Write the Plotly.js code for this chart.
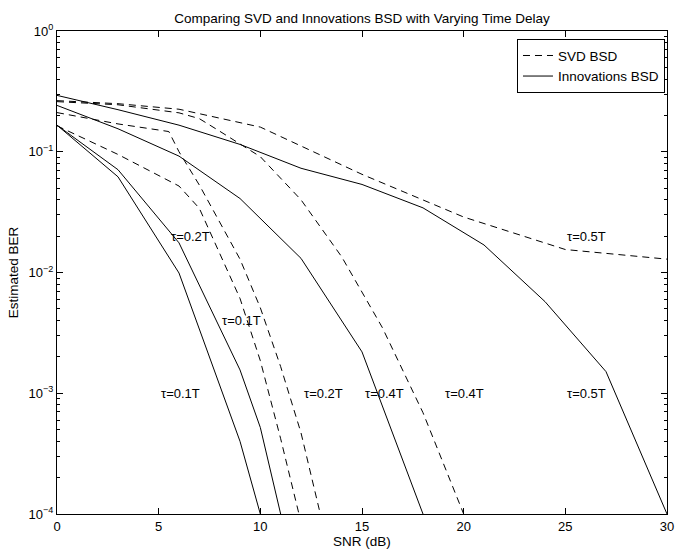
<!DOCTYPE html>
<html>
<head>
<meta charset="utf-8">
<script src="https://cdn.plot.ly/plotly-3.0.1.min.js"></script>
<style>html,body{margin:0;padding:0;background:#fff;}#chart{width:686px;height:550px;}</style>
</head>
<body>
<div id="chart"></div>
<script>
// Innovations BSD (solid)
const snrInno01 = [0, 3, 6, 9, 10];
const berInno01 = [0.166, 0.062, 0.0099, 0.0004, 0.0001];
const snrInno02 = [0, 3, 6, 9, 10, 11];
const berInno02 = [0.166, 0.071, 0.0176, 0.00156, 0.00052, 0.0001];
const snrInno04 = [0, 3, 6, 9, 12, 15, 18];
const berInno04 = [0.242, 0.155, 0.092, 0.041, 0.0131, 0.0022, 0.0001];
const snrInno05 = [0, 3, 6, 9, 12, 15, 18, 21, 24, 27, 30];
const berInno05 = [0.293, 0.223, 0.166, 0.115, 0.073, 0.0536, 0.0343, 0.0169, 0.00574, 0.00151, 0.0001];

// SVD BSD (dashed)
const snrSvd01 = [0, 3, 6, 7, 8, 9, 10, 11, 11.9];
const berSvd01 = [0.164, 0.095, 0.052, 0.034, 0.0144, 0.0061, 0.00186, 0.00042, 0.0001];
const snrSvd02 = [0, 3, 5.5, 6, 7, 8, 9, 10, 11, 12, 12.95];
const berSvd02 = [0.211, 0.17, 0.147, 0.1, 0.053, 0.026, 0.0129, 0.0051, 0.00166, 0.00047, 0.0001];
const snrSvd04 = [0, 3, 6, 7, 8, 10, 12, 14, 16, 18, 20];
const berSvd04 = [0.26, 0.245, 0.21, 0.188, 0.148, 0.091, 0.040, 0.0135, 0.0035, 0.00069, 0.0001];
const snrSvd05 = [0, 3, 6, 10, 15, 20, 25, 30];
const berSvd05 = [0.265, 0.25, 0.225, 0.16, 0.065, 0.0288, 0.0155, 0.0129];

// Labels
const labelText = ["τ=0.2T", "τ=0.1T", "τ=0.1T", "τ=0.2T", "τ=0.4T", "τ=0.4T", "τ=0.5T", "τ=0.5T"];
const labelX = [5.5, 8, 5, 12.05, 15.05, 19, 25, 25];
const labelY = [0.02, 0.004, 0.001, 0.001, 0.001, 0.001, 0.001, 0.0198];

// Axis ticks
const xTicks = [0, 5, 10, 15, 20, 25, 30];
const yTicks = [1e-4, 1e-3, 1e-2, 1e-1, 1];
const yTickText = ["10<sup>−4</sup>", "10<sup>−3</sup>", "10<sup>−2</sup>", "10<sup>−1</sup>", "10<sup>0</sup>"];

const FONT = "Liberation Sans, Arial, Helvetica, sans-serif";
const minorY = [];
for (let e = -4; e < 0; e++) for (let m = 2; m <= 9; m++) minorY.push(m * Math.pow(10, e));

function tr(x, y, dashed, name, show) {
  return {
    x: x, y: y, type: 'scatter', mode: 'lines',
    line: {color: '#000', width: 1, dash: dashed ? '7px,5px' : 'solid'},
    name: name, legendgroup: name, showlegend: show, hoverinfo: 'skip'
  };
}

const data = [
  tr(snrSvd05, berSvd05, true, 'SVD BSD', true),
  tr(snrSvd04, berSvd04, true, 'SVD BSD', false),
  tr(snrSvd02, berSvd02, true, 'SVD BSD', false),
  tr(snrSvd01, berSvd01, true, 'SVD BSD', false),
  tr(snrInno05, berInno05, false, 'Innovations BSD', true),
  tr(snrInno04, berInno04, false, 'Innovations BSD', false),
  tr(snrInno02, berInno02, false, 'Innovations BSD', false),
  tr(snrInno01, berInno01, false, 'Innovations BSD', false)
];

const annotations = labelText.map((t, i) => ({
  x: labelX[i], y: Math.log10(labelY[i]), xref: 'x', yref: 'y',
  text: t, showarrow: false, xanchor: 'left', yanchor: 'middle',
  font: {family: FONT, size: 13, color: '#000'}
}));

const layout = {
  width: 686, height: 550,
  margin: {l: 57, r: 19, t: 31, b: 36, pad: 0},
  paper_bgcolor: '#fff', plot_bgcolor: '#fff',
  font: {family: FONT, size: 13, color: '#000'},
  title: {text: 'Comparing SVD and Innovations BSD with Varying Time Delay',
          font: {family: FONT, size: 13.5, color: '#000'},
          xref: 'paper', x: 0.5, xanchor: 'center', yref: 'container', y: 1 - 18/550, yanchor: 'middle'},
  xaxis: {
    range: [0, 30], tickmode: 'array', tickvals: xTicks,
    ticks: 'inside', ticklen: 6, tickcolor: '#000', tickwidth: 1,
    showline: true, linecolor: '#000', linewidth: 1, mirror: 'ticks',
    showgrid: false, zeroline: false,
    tickfont: {family: FONT, size: 13, color: '#000'},
    title: {text: 'SNR (dB)', font: {family: FONT, size: 13.5, color: '#000'}, standoff: 2}
  },
  yaxis: {
    type: 'log', range: [-4, 0], tickmode: 'array', tickvals: yTicks, ticktext: yTickText,
    ticks: 'inside', ticklen: 6, tickcolor: '#000', tickwidth: 1,
    showline: true, linecolor: '#000', linewidth: 1, mirror: 'ticks',
    showgrid: false, zeroline: false,
    minor: {tickmode: 'array', tickvals: minorY, ticks: 'inside', ticklen: 3, tickcolor: '#000', tickwidth: 1, showgrid: false},
    tickfont: {family: FONT, size: 13, color: '#000'},
    title: {text: 'Estimated BER', font: {family: FONT, size: 13.5, color: '#000'}, standoff: 6}
  },
  showlegend: true,
  legend: {x: 0.9967, xanchor: 'right', y: 0.983, yanchor: 'top',
           bgcolor: '#fff', bordercolor: '#000', borderwidth: 1,
           font: {family: FONT, size: 13.5, color: '#000'}, tracegroupgap: 0},
  annotations: annotations
};

Plotly.newPlot('chart', data, layout, {staticPlot: true, displayModeBar: false});
</script>
</body>
</html>
